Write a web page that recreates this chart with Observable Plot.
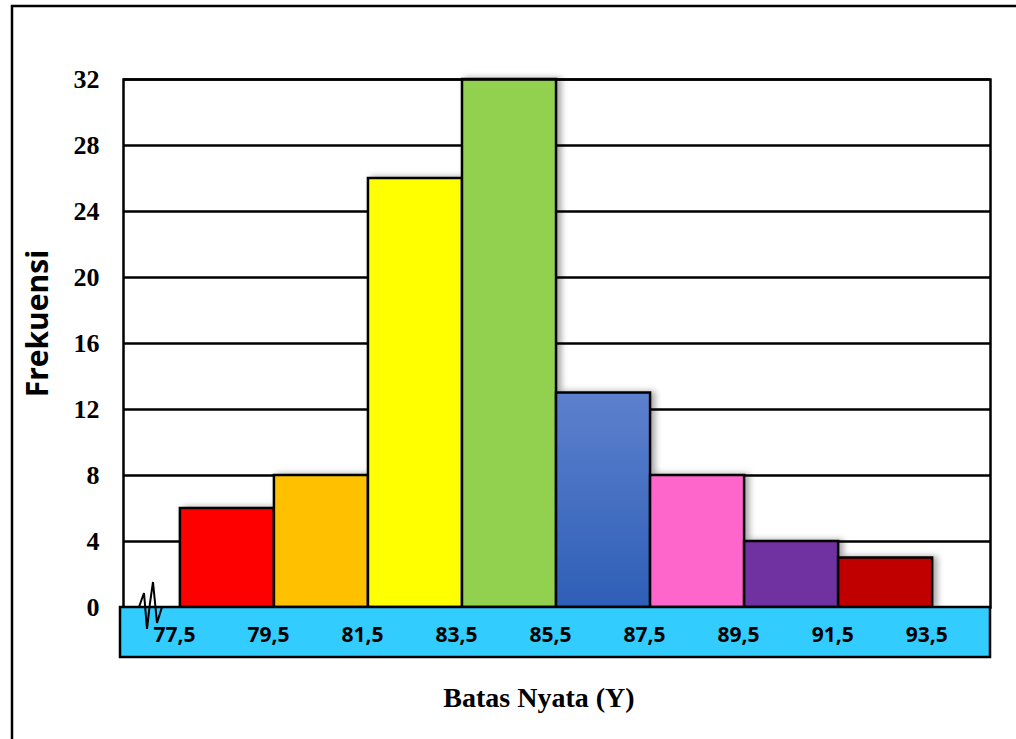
<!DOCTYPE html>
<html><head><meta charset="utf-8">
<script src="https://cdn.jsdelivr.net/npm/d3@7"></script>
<script src="https://cdn.jsdelivr.net/npm/@observablehq/plot@0.6"></script>
<style>html,body{margin:0;padding:0;background:#fff;overflow:hidden}</style>
</head><body><div id="chart"></div>
<script>
// ---- data ----
const lowerBounds = [77.5, 79.5, 81.5, 83.5, 85.5, 87.5, 89.5, 91.5];
const upperBounds = [79.5, 81.5, 83.5, 85.5, 87.5, 89.5, 91.5, 93.5];
const frequencies = [6, 8, 26, 32, 13, 8, 4, 3];
const boundaryTicks = [77.5, 79.5, 81.5, 83.5, 85.5, 87.5, 89.5, 91.5, 93.5];
const boundaryLabels = ["77,5", "79,5", "81,5", "83,5", "85,5", "87,5", "89,5", "91,5", "93,5"];
const yTicks = [0, 4, 8, 12, 16, 20, 24, 28, 32];
const barColors = ["#FF0000", "#FFC000", "#FFFF00", "#92D050", "url(#blueGrad)", "#FF66CC", "#7030A0", "#C00000"];
const yTitle = "Frekuensi";
const xTitle = "Batas Nyata (Y)";

const bars = lowerBounds.map((x1, i) => ({x1, x2: upperBounds[i], y: frequencies[i], fill: barColors[i]}));
const ticks = boundaryTicks.map((x, i) => ({x, label: boundaryLabels[i]}));

const W = 1016, H = 739;

const defsMark = () => {
  const g = d3.create("svg:g");
  const defs = g.append("defs");
  const lg = defs.append("linearGradient").attr("id", "blueGrad").attr("x1", 0).attr("y1", 0).attr("x2", 0).attr("y2", 1);
  lg.append("stop").attr("offset", "0%").attr("stop-color", "#5D80CD");
  lg.append("stop").attr("offset", "100%").attr("stop-color", "#2E5FB7");
  const f = defs.append("filter").attr("id", "barShadow").attr("x", "-10%").attr("y", "-10%").attr("width", "130%").attr("height", "120%");
  f.append("feDropShadow").attr("dx", 4).attr("dy", 0).attr("stdDeviation", 3).attr("flood-color", "#000").attr("flood-opacity", 0.35);
  // outer border (left and top sides only visible)
  g.append("path").attr("d", `M12,${H + 10}V6H${W + 10}`).attr("fill", "none").attr("stroke", "#000").attr("stroke-width", 2.5);
  return g.node();
};

const bandMark = (index, scales, values, dims) => {
  const g = d3.create("svg:g");
  const y0 = scales.y(0);
  g.append("rect")
    .attr("x", dims.marginLeft - 3)
    .attr("y", y0)
    .attr("width", dims.width - dims.marginRight - dims.marginLeft + 3)
    .attr("height", 50)
    .attr("fill", "#33CCFF")
    .attr("stroke", "#000")
    .attr("stroke-width", 2.5);
  return g.node();
};

const breakMark = (index, scales, values, dims) => {
  const g = d3.create("svg:g");
  const x0 = dims.marginLeft, y0 = scales.y(0);
  const pts = [[16, 0], [21, -14], [24, 22], [27, -4], [30, -25], [34, 16], [39, 0]];
  g.append("path")
    .attr("d", "M" + pts.map(p => `${x0 + p[0]},${y0 + p[1]}`).join("L"))
    .attr("fill", "none").attr("stroke", "#000").attr("stroke-width", 2);
  return g.node();
};

const plot = Plot.plot({
  width: W, height: H,
  marginLeft: 123, marginRight: 26, marginTop: 79, marginBottom: 132,
  x: {domain: [76.29, 94.73], axis: null},
  y: {domain: [0, 32], axis: null},
  color: {type: "identity"},
  style: {background: "transparent", overflow: "visible"},
  marks: [
    defsMark,
    Plot.gridY(yTicks, {stroke: "#000", strokeOpacity: 1, strokeWidth: 2.5}),
    Plot.rectY(bars, {x1: "x1", x2: "x2", y: "y", fill: "fill", stroke: "#000", strokeWidth: 2.5}),
    Plot.frame({stroke: "#000", strokeWidth: 2.5}),
    bandMark,
    breakMark,
    Plot.axisY(yTicks, {tickSize: 0, tickPadding: 24, fontFamily: "Liberation Serif", fontWeight: "bold", fontSize: 26, fill: "#000", label: null}),
    Plot.text(ticks, {x: "x", y: () => 0, text: "label", dy: 28, dx: -6, fontFamily: "Open Sans", fontWeight: "bold", fontSize: 21, fill: "#000"}),
    Plot.text([yTitle], {frameAnchor: "left", textAnchor: "middle", lineAnchor: "middle", text: d => d, rotate: -90, dx: -85, dy: -20, fontFamily: "Open Sans", fontWeight: "bold", fontSize: 30, fill: "#000"}),
    Plot.text([xTitle], {frameAnchor: "bottom", textAnchor: "middle", lineAnchor: "middle", text: d => d, dx: -18, dy: 91, fontFamily: "Liberation Serif", fontWeight: "bold", fontSize: 28, fill: "#000"})
  ]
});

d3.select(plot).select('g[aria-label="rect"]').attr("filter", "url(#barShadow)");
document.getElementById("chart").appendChild(plot);
</script>
</body></html>
